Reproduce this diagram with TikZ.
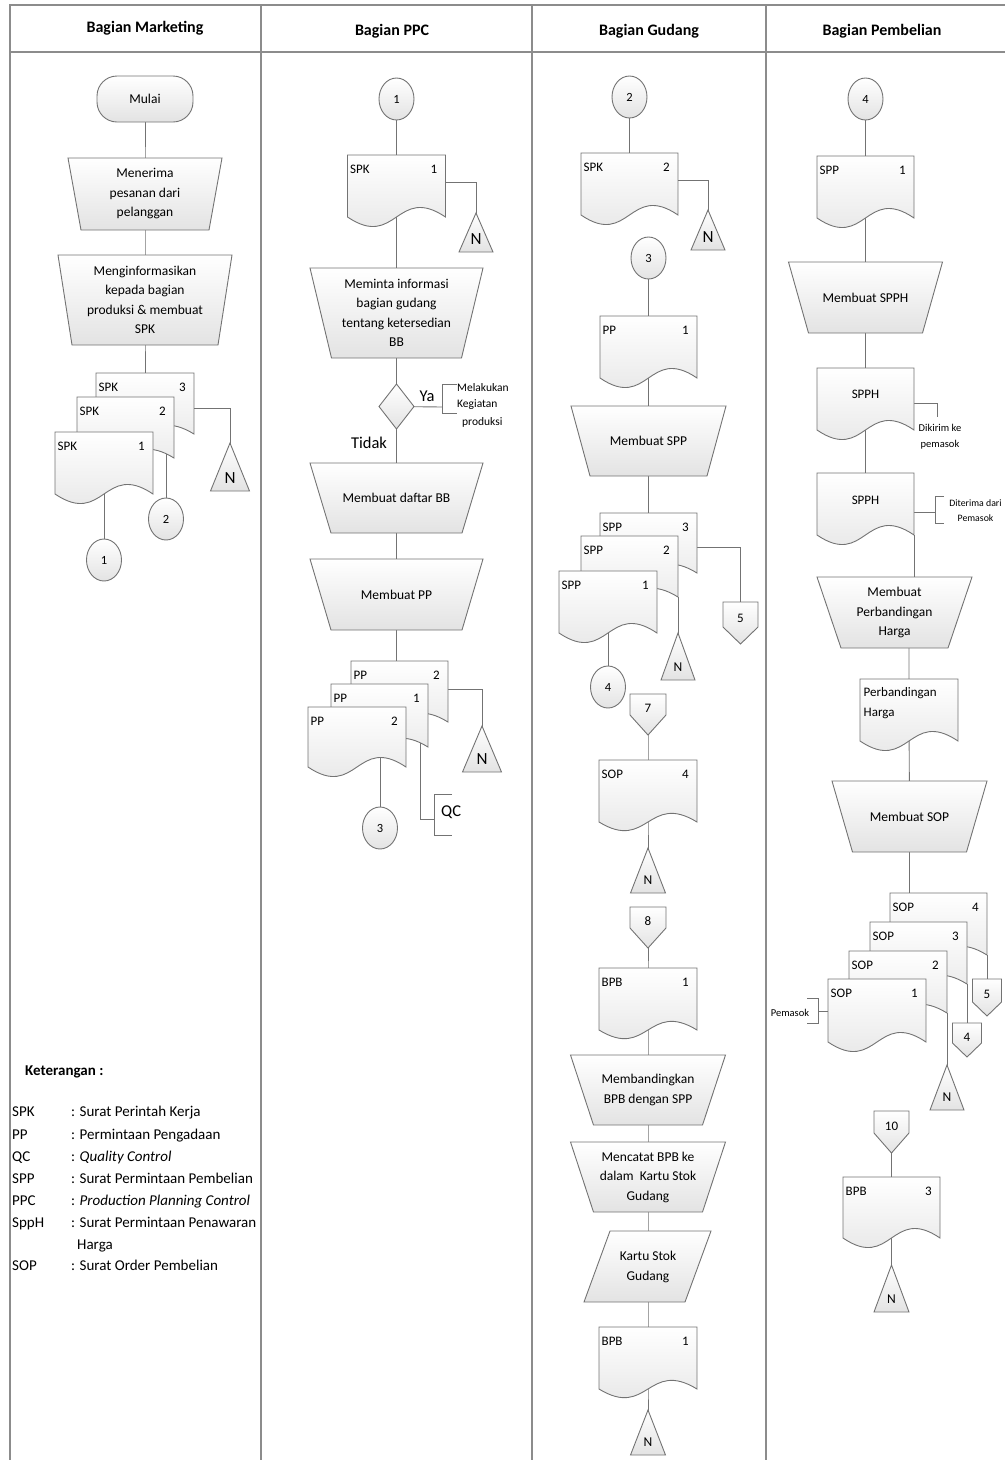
\documentclass[tikz,border=0pt]{standalone}
\usepackage{fontspec}
\setmainfont{Carlito}
\usetikzlibrary{shapes.geometric}
\pgfdeclarelayer{bg}
\pgfsetlayers{bg,main}
\tikzset{
 shp/.style={draw=black!55, line width=0.9pt, top color=white, bottom color=black!11},
 txt/.style={font=\fontsize{13.5}{19.5}\selectfont, align=center, inner sep=0pt},
 box/.style={inner sep=0pt, outer sep=0pt},
 lbl/.style={font=\fontsize{13}{15}\selectfont, inner sep=0pt},
 conn/.style={ellipse, draw=black!55, line width=0.9pt, top color=white, bottom color=black!11, minimum width=35pt, minimum height=42pt, inner sep=0pt, font=\fontsize{12.5}{14}\selectfont},
 term/.style={draw=black!55, line width=0.9pt, top color=white, bottom color=black!11, rounded corners=20pt, minimum width=96pt, minimum height=46pt, inner sep=0pt, font=\fontsize{13.5}{15}\selectfont},
 link/.style={draw=black!55, line width=0.9pt},
 frame/.style={draw=black!45, line width=1.4pt},
 ann/.style={font=\fontsize{11.5}{17}\selectfont, inner sep=0pt},
 small/.style={font=\fontsize{10.5}{16}\selectfont, inner sep=0pt, align=center},
 big/.style={font=\fontsize{16.5}{18}\selectfont, inner sep=0pt},
 Nbig/.style={font=\fontsize{17}{18}\selectfont, inner sep=0pt},
 Nsmall/.style={font=\fontsize{13.5}{15}\selectfont, inner sep=0pt},
 legend/.style={font=\fontsize{15}{22}\selectfont, inner sep=0pt, anchor=base west},
 head/.style={font=\bfseries\fontsize{16}{18}\selectfont, inner sep=0pt},
}
% document shape: name x0 y0 w he d
\newcommand{\Doc}[6]{%
 \path[shp] (#2,#3) -- ({#2+#4},#3) -- ({#2+#4},{#3+#5}) .. controls ({#2+#4/2},{#3+#5-#6}) and ({#2+#4/2},{#3+#5+#6}) .. (#2,{#3+#5}) -- cycle;
 \node[box, minimum width=#4pt, minimum height=#5pt, anchor=north west] (#1) at (#2,#3) {};}
\newcommand{\DocLab}[3]{%
 \node[lbl, anchor=west] (#1-l) at ([xshift=2.5pt,yshift=-14pt]#1.north west) {#2};
 \node[lbl, anchor=east] (#1-r) at ([xshift=-8pt,yshift=-14pt]#1.north east) {#3};}
% trapezoid: name cx ytop wt wb h text
\newcommand{\Trap}[7]{%
 \path[shp] ({#2-#4/2},#3) -- ({#2+#4/2},#3) -- ({#2+#5/2},{#3+#6}) -- ({#2-#5/2},{#3+#6}) -- cycle;
 \node[txt] (#1) at (#2,{#3+#6/2}) {#7};}
% triangle: name cx yapex halfw ybase style
\newcommand{\Tri}[6]{%
 \path[shp] (#2,#3) -- ({#2+#4},#5) -- ({#2-#4},#5) -- cycle;
 \node[#6] (#1) at (#2,{#5-13}) {N};}
% off-page: name cx ytop w yside ypoint text
\newcommand{\Off}[7]{%
 \path[shp] ({#2-#4/2},#3) -- ({#2+#4/2},#3) -- ({#2+#4/2},#5) -- (#2,#6) -- ({#2-#4/2},#5) -- cycle;
 \node[lbl] (#1) at (#2,{(#3+#5)/2+4}) {#7};}

\begin{document}
\begin{tikzpicture}[x=1pt,y=-1pt]
\useasboundingbox (0,0) rectangle (1005,1460);
% frame
\draw[frame] (10,1460) -- (10,5) -- (1005,5);
\draw[frame] (10,52) -- (1005,52);
\draw[frame] (261,5) -- (261,1460);
\draw[frame] (532,5) -- (532,1460);
\draw[frame] (766,5) -- (766,1460);
\node[head] (h1) at (145,28) {Bagian Marketing};
\node[head] (h2) at (392,31) {Bagian PPC};
\node[head] (h3) at (649,31) {Bagian Gudang};
\node[head] (h4) at (882,31) {Bagian Pembelian};

% ===== Marketing =====
\node[term] (mulai) at (145,99) {Mulai};
\Trap{m1}{145}{158}{154}{128}{72}{Menerima\\pesanan dari\\pelanggan}
\Trap{m2}{145}{255}{174}{146}{90}{Menginformasikan\\kepada bagian\\produksi \& membuat\\SPK}
\Doc{spk3m}{96}{373}{98}{61}{30}\DocLab{spk3m}{SPK}{3}
\Doc{spk2m}{77}{397}{97}{61}{30}\DocLab{spk2m}{SPK}{2}
\Doc{spk1m}{55}{432}{98}{62}{33}\DocLab{spk1m}{SPK}{1}
\Tri{nm}{230}{443}{19.5}{491}{Nbig}
\node[conn] (c2m) at (166,519) {2};
\node[conn] (c1m) at (104,560) {1};

% ===== PPC =====
\node[conn] (c1p) at (396.5,99) {1};
\Doc{spkp}{347.5}{155}{98}{62}{33}\DocLab{spkp}{SPK}{1}
\Tri{np}{476}{213}{17}{252}{Nbig}
\Trap{p1}{396.5}{268}{173}{130}{90}{Meminta informasi\\bagian gudang\\tentang ketersedian\\BB}
\path[shp] (379,406.5) -- (396.5,384) -- (414,406.5) -- (396.5,429) -- cycle;
\coordinate (dec) at (396.5,406.5);
\node[big] (ya) at (427,396) {Ya};
\draw[link] (457,384) -- (442,384) -- (442,413) -- (457,413);
\coordinate (ybr) at (442,407);
\node[ann, anchor=west] (mk1) at (457,388) {Melakukan};
\node[ann, anchor=west] (mk2) at (457,405) {Kegiatan};
\node[ann, anchor=west] (mk3) at (462,422) {produksi};
\node[big] (tidak) at (369,443) {Tidak};
\Trap{p2}{396.5}{463}{173}{131}{70}{Membuat daftar BB}
\Trap{p3}{396.5}{559}{173}{131}{71}{Membuat PP}
\Doc{pp2b}{351}{661}{97}{61}{30}\DocLab{pp2b}{PP}{2}
\Doc{pp1m}{331}{684}{97}{63}{30}\DocLab{pp1m}{PP}{1}
\Doc{pp2f}{308}{707}{98}{60}{33}\DocLab{pp2f}{PP}{2}
\Tri{np2}{482}{726}{19.5}{772}{Nbig}
\draw[link] (452,794) -- (434,794) -- (434,835) -- (452,835);
\coordinate (qcj) at (420,819);
\coordinate (qcb) at (434,819);
\node[big, anchor=west] (qc) at (441,812) {QC};
\node[conn] (c3p) at (380,828) {3};

% ===== Gudang =====
\node[conn] (c2g) at (629.5,97) {2};
\Doc{spkg}{581}{153}{97}{62}{33}\DocLab{spkg}{SPK}{2}
\Tri{ng1}{708}{210}{17}{250}{Nbig}
\node[conn] (c3g) at (648.5,258) {3};
\Doc{ppg}{600}{316}{97}{62}{33}\DocLab{ppg}{PP}{1}
\Trap{g1}{648.5}{406}{155}{117}{70}{Membuat SPP}
\Doc{spp3}{600}{513}{97}{60}{30}\DocLab{spp3}{SPP}{3}
\Doc{spp2}{581}{536}{97}{61}{30}\DocLab{spp2}{SPP}{2}
\Doc{spp1}{559}{571}{98}{62}{33}\DocLab{spp1}{SPP}{1}
\Off{off5g}{740.5}{602}{35}{627}{644}{5}
\Tri{ng2}{678}{633}{17}{680}{Nsmall}
\node[conn] (c4g) at (608,687) {4};
\Off{off7}{648}{694}{36}{715}{735}{7}
\Doc{sopg}{599}{760}{98}{62}{30}\DocLab{sopg}{SOP}{4}
\Tri{ng3}{648}{848}{17.5}{893}{Nsmall}
\Off{off8}{648}{907}{36}{928}{948}{8}
\Doc{bpbg1}{599}{968}{98}{62}{30}\DocLab{bpbg1}{BPB}{1}
\Trap{g2}{648}{1055}{155}{109}{70}{Membandingkan\\BPB dengan SPP}
\Trap{g3}{648}{1142}{155}{109}{70}{Mencatat BPB ke\\dalam\ \ Kartu Stok\\Gudang}
\path[shp] (610,1231) -- (711,1231) -- (685,1302) -- (584,1302) -- cycle;
\node[txt] (ksg) at (648,1267) {Kartu Stok\\Gudang};
\Doc{bpbg2}{599}{1327}{98}{62}{30}\DocLab{bpbg2}{BPB}{1}
\Tri{ng4}{648}{1410}{17.5}{1455}{Nsmall}

% ===== Pembelian =====
\node[conn] (c4b) at (865.5,99) {4};
\Doc{sppb}{817}{156}{97}{62}{33}\DocLab{sppb}{SPP}{1}
\Trap{b1}{865.5}{262}{154}{114}{71}{Membuat SPPH}
\Doc{spph1}{817}{368}{97}{62}{33}
\node[lbl] (spph1t) at (865.5,394) {SPPH};
\coordinate (dk) at (937,417);
\node[small] (dkt) at (940,437) {Dikirim ke\\pemasok};
\Doc{spph2}{817}{473}{97}{62}{33}
\node[lbl] (spph2t) at (865.5,500) {SPPH};
\draw[link] (944,496) -- (935,496) -- (935,523) -- (944,523);
\coordinate (dtb) at (935,512);
\node[small, font=\fontsize{9.8}{15}\selectfont] (dtt) at (975.5,511) {Diterima dari\\Pemasok};
\Trap{b2}{894.5}{577}{155}{107}{71}{Membuat\\Perbandingan\\Harga}
\Doc{pbh}{860}{679}{98}{62}{33}
\node[lbl, anchor=west] (pbh1) at (863.5,693) {Perbandingan};
\node[lbl, anchor=west] (pbh2) at (863.5,713) {Harga};
\Trap{b3}{909.5}{781}{155}{114}{71}{Membuat SOP}
\Doc{sop4}{890}{893}{97}{62}{30}\DocLab{sop4}{SOP}{4}
\Doc{sop3}{870}{922}{97}{62}{30}\DocLab{sop3}{SOP}{3}
\Doc{sop2}{849}{951}{98}{62}{30}\DocLab{sop2}{SOP}{2}
\Doc{sop1}{828}{979}{98}{63}{33}\DocLab{sop1}{SOP}{1}
\Off{off5b}{987}{979}{29}{1002}{1016}{5}
\Off{off4b}{967}{1023}{29}{1043}{1057}{4}
\Tri{nb1}{947}{1065}{17}{1110}{Nsmall}
\draw[link] (807,998) -- (818,998) -- (818,1023) -- (807,1023);
\coordinate (pmb) at (818,1011);
\node[small] (pmt) at (790,1013) {Pemasok};
\Off{off10}{891.5}{1111}{35}{1133}{1153}{10}
\Doc{bpbb}{843}{1177}{97}{61}{33}\DocLab{bpbb}{BPB}{3}
\Tri{nb2}{891.5}{1265}{17.5}{1312}{Nsmall}

% ===== Legend =====
\node[legend, font=\bfseries\fontsize{15}{18}\selectfont] (ket) at (25,1075) {Keterangan :};
\node[legend] (a1) at (12,1116) {SPK};  \node[legend] (d1) at (71,1116) {: Surat Perintah Kerja};
\node[legend] (a2) at (12,1139) {PP};   \node[legend] (d2) at (71,1139) {: Permintaan Pengadaan};
\node[legend] (a3) at (12,1161) {QC};   \node[legend] (d3) at (71,1161) {: \textit{Quality Control}};
\node[legend] (a4) at (12,1183) {SPP};  \node[legend] (d4) at (71,1183) {: Surat Permintaan Pembelian};
\node[legend] (a5) at (12,1205) {PPC};  \node[legend] (d5) at (71,1205) {: \textit{Production Planning Control}};
\node[legend] (a6) at (12,1227) {SppH}; \node[legend] (d6) at (71,1227) {: Surat Permintaan Penawaran};
\node[legend] (d6b) at (77,1249) {Harga};
\node[legend] (a7) at (12,1270) {SOP};  \node[legend] (d7) at (71,1270) {: Surat Order Pembelian};

% ===== connectors =====
\begin{pgfonlayer}{bg}
% Marketing
\draw[link] (mulai.center) -- (m1.center) -- (m2.center) -- (spk3m.center);
\draw[link] ([yshift=-35pt]spk3m.north) -| (nm.center);
\draw[link] (spk2m.center -| c2m) -- (c2m.center);
\draw[link] (spk1m.center) -- (c1m.center);
% PPC
\draw[link] (c1p.center) -- (spkp.center) -- (p1.center) -- (dec) -- (p2.center) -- (p3.center) -- (p3.center |- pp2b.center);
\draw[link] ([yshift=-27pt]spkp.north) -| (np.center);
\draw[link] (dec) -- (ybr);
\draw[link] ([yshift=-28pt]pp2b.north) -| (np2.center);
\draw[link] (pp1m.center -| qcj) -- (qcj) -- (qcb);
\draw[link] (pp2f.center -| c3p) -- (c3p.center);
% Gudang
\draw[link] (c2g.center) -- (spkg.center);
\draw[link] ([yshift=-27pt]spkg.north) -| (ng1.center);
\draw[link] (c3g.center) -- (ppg.center) -- (g1.center) -- (spp3.center);
\draw[link] ([yshift=-34pt]spp3.north) -| (off5g.center);
\draw[link] (spp2.south east) -- (ng2.center);
\draw[link] (spp1.center) -- (c4g.center);
\draw[link] (off7.center) -- (sopg.center) -- (ng3.center);
\draw[link] (off8.center) -- (bpbg1.center) -- (g2.center) -- (g3.center) -- (ksg.center) -- (bpbg2.center) -- (ng4.center);
% Pembelian
\draw[link] (c4b.center) -- (sppb.center) -- (b1.center) -- (spph1.center) -- (spph2.center);
\draw[link] ([yshift=-35pt]spph1.north) -| (dk);
\draw[link] ([yshift=-39pt]spph2.north) -- (dtb);
\draw[link] (spph2.south east) -- (spph2.south east |- b2.center);
\draw[link] (b2.center -| pbh.center) -- (pbh.center) -- (b3.center) -- (b3.center |- sop4.center);
\draw[link] (sop4.south east) -- (off5b.center);
\draw[link] (sop3.south east) -- (off4b.center);
\draw[link] (sop2.south east) -- (nb1.center);
\draw[link] (pmb) -- (pmb -| sop1.west);
\draw[link] (off10.center) -- (bpbb.center) -- (nb2.center);
\end{pgfonlayer}
\end{tikzpicture}
\end{document}
